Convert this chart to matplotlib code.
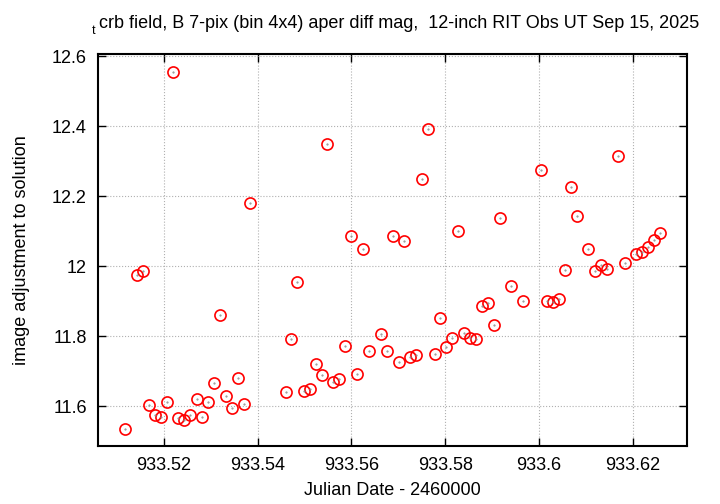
import numpy as np
import matplotlib
matplotlib.use("Agg")
import matplotlib.pyplot as plt
from matplotlib.ticker import FormatStrFormatter

plt.rcParams['font.family'] = ['Liberation Sans', 'DejaVu Sans']

# Julian Date - 2460000
jd = [933.5118, 933.5143, 933.5156, 933.5169, 933.5181, 933.5194, 933.5206, 933.5219,
      933.5231, 933.5244, 933.5257, 933.5270, 933.5282, 933.5295, 933.5307, 933.5321,
      933.5333, 933.5345, 933.5358, 933.5371, 933.5384,
      933.5460, 933.5472, 933.5485, 933.5498, 933.5511, 933.5524, 933.5537, 933.5549,
      933.5561, 933.5574, 933.5587, 933.5600, 933.5612, 933.5624, 933.5637,
      933.5662, 933.5675, 933.5688, 933.5701, 933.5713, 933.5725, 933.5738, 933.5751,
      933.5764, 933.5777, 933.5789, 933.5802, 933.5815, 933.5828, 933.5840, 933.5852,
      933.5865, 933.5878, 933.5891, 933.5903, 933.5916,
      933.5941, 933.5966, 933.6004, 933.6017, 933.6030, 933.6043, 933.6056, 933.6068,
      933.6080, 933.6105, 933.6118, 933.6131, 933.6144, 933.6169, 933.6182,
      933.6207, 933.6219, 933.6232, 933.6245, 933.6257]

mag = [11.536, 11.975, 11.986, 11.604, 11.575, 11.569, 11.612, 12.555,
       11.567, 11.560, 11.575, 11.619, 11.570, 11.612, 11.665, 11.861,
       11.630, 11.594, 11.679, 11.605, 12.181,
       11.640, 11.792, 11.955, 11.644, 11.649, 11.720, 11.688, 12.349,
       11.668, 11.677, 11.772, 12.085, 11.692, 12.050, 11.757,
       11.807, 11.757, 12.085, 11.727, 12.071, 11.741, 11.746, 12.249,
       12.392, 11.748, 11.851, 11.769, 11.795, 12.100, 11.808, 11.794,
       11.793, 11.886, 11.896, 11.831, 12.138,
       11.942, 11.899, 12.275, 11.899, 11.898, 11.906, 11.988, 12.226,
       12.143, 12.049, 11.986, 12.002, 11.992, 12.314, 12.009,
       12.036, 12.039, 12.054, 12.074, 12.095]

xticks = [933.52, 933.54, 933.56, 933.58, 933.60, 933.62]
yticks = [11.6, 11.8, 12.0, 12.2, 12.4, 12.6]

fig = plt.figure(figsize=(7.2, 5.04), dpi=100)
ax = fig.add_axes([98 / 720, 1 - 446 / 504, (687 - 98) / 720, (446 - 54) / 504])

ax.plot(jd, mag, linestyle='none', marker='o', markersize=8, markerfacecolor='none',
        markeredgecolor='red', markeredgewidth=1.2)
ax.plot(jd, mag, linestyle='none', marker='.', markersize=1, color='#888888')

ax.set_xlim(933.506, 933.6315)
ax.set_ylim(11.486, 12.606)
ax.set_xticks(xticks)
ax.set_yticks(yticks)
ax.xaxis.set_major_formatter(FormatStrFormatter('%g'))
ax.yaxis.set_major_formatter(FormatStrFormatter('%g'))
ax.tick_params(direction='in', top=True, right=True, length=6, width=1, labelsize=13, pad=8)
ax.grid(True, linestyle=':', color='#b0b0b0', linewidth=0.8)
for s in ax.spines.values():
    s.set_linewidth(1.5)

ax.set_xlabel('Julian Date - 2460000', fontsize=13, labelpad=6)
ax.set_ylabel('image adjustment to solution', fontsize=13, labelpad=16)

fig.text(92 / 720, 1 - 34 / 504, 't', fontsize=9, ha='left', va='baseline')
fig.text(99 / 720, 1 - 28 / 504,
         'crb field, B 7-pix (bin 4x4) aper diff mag,  12-inch RIT Obs UT Sep 15, 2025',
         fontsize=13, ha='left', va='baseline')

fig.savefig('out.png', dpi=100)
plt.close(fig)
